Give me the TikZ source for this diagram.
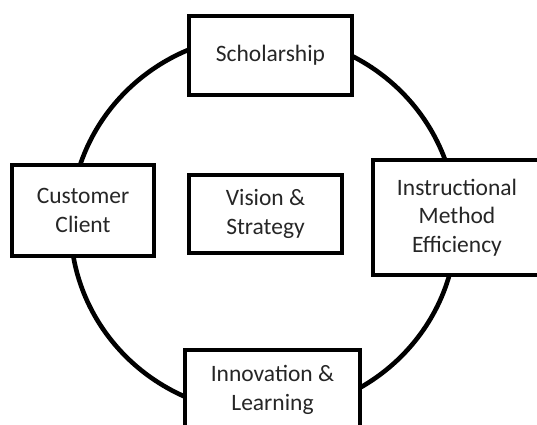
\documentclass[tikz,border=0pt]{standalone}
\usepackage{fontspec}
\setmainfont{Carlito}
\begin{document}
\begin{tikzpicture}[x=1pt,y=-1pt,
  boxnode/.style={draw=black, line width=4pt, fill=white, align=center, inner sep=0pt,
    text=black!85, font=\fontsize{23.5}{28.5}\selectfont},
  ring/.style={draw=black, line width=4.6pt}]
\useasboundingbox (0,0) rectangle (537,424);
\clip (0,0) rectangle (537,424);
\coordinate (ctr) at (263.5,224);
\draw[ring] (ctr) ellipse [x radius=193pt, y radius=189pt];
\node[boxnode, minimum width=163pt, minimum height=79pt] (schol) at (270.5,55.5) {Scholarship};
\node[boxnode, minimum width=142pt, minimum height=91pt] (cust) at (83,210.5) {Customer\\Client};
\node[boxnode, minimum width=153pt, minimum height=78pt] (vision) at (265.5,214) {Vision \&\\Strategy};
\node[boxnode, minimum width=168pt, minimum height=115pt] (instr) at (457,217.5) {Instructional\\Method\\Efficiency};
\node[boxnode, minimum width=175pt, minimum height=80pt] (innov) at (272.5,390) {Innovation \&\\Learning};
\end{tikzpicture}
\end{document}
